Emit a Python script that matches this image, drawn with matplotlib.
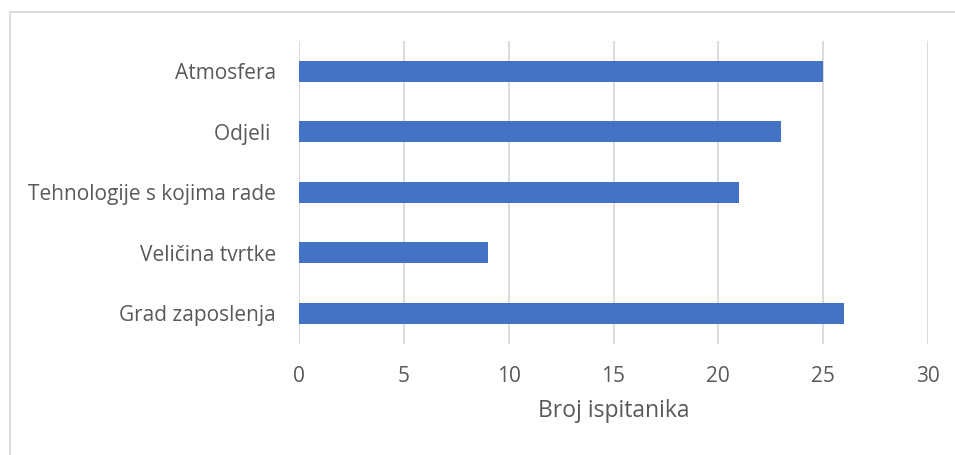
import matplotlib.pyplot as plt
from matplotlib.patches import Rectangle

# Data (top to bottom as shown)
categories = ['Atmosfera', 'Odjeli ', 'Tehnologije s kojima rade', 'Veličina tvrtke', 'Grad zaposlenja']
values = [25, 23, 21, 9, 26]
xticks = [0, 5, 10, 15, 20, 25, 30]

text_color = '#595959'
plt.rcParams['font.family'] = ['Open Sans', 'DejaVu Sans']

fig = plt.figure(figsize=(9.55, 4.55), dpi=100)
ax = fig.add_axes([299 / 955, 1 - 343.5 / 455, (928 - 299) / 955, (343.5 - 41) / 455])

pos = list(range(len(categories)))
ax.barh(pos, values, height=0.34, color='#4472C4', zorder=3)
ax.set_ylim(len(categories) - 0.5, -0.5)
ax.set_xlim(0, 30)
ax.set_xticks(xticks)
ax.set_yticks(pos)
ax.set_yticklabels(categories)

ax.grid(axis='x', color='#d9d9d9', linewidth=1.3, zorder=0)
for s in ax.spines.values():
    s.set_visible(False)
ax.tick_params(length=0, labelsize=15, colors=text_color)
ax.tick_params(axis='y', pad=16.5)
ax.tick_params(axis='x', pad=16.5)
ax.set_xlabel('Broj ispitanika', fontsize=16.5, color=text_color, labelpad=8)

# chart border
fig.patches.append(Rectangle((10 / 955, -0.01), 1.0, 1 - 12 / 455 + 0.01, transform=fig.transFigure,
                             fill=False, edgecolor='#d9d9d9', linewidth=1.3))

fig.savefig('out.png', dpi=100, facecolor='white')
